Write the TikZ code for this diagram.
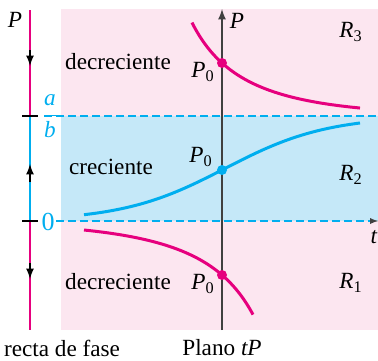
\documentclass[tikz,border=0pt]{standalone}
\usepackage{fontspec}
\setmainfont{Liberation Serif}
\usetikzlibrary{arrows.meta,calc}
\definecolor{fasemag}{RGB}{230,0,126}
\definecolor{fasecyan}{RGB}{0,174,239}
\definecolor{bgpink}{RGB}{252,230,240}
\definecolor{bgblue}{RGB}{197,232,248}
\definecolor{axisgray}{RGB}{64,64,64}

\begin{document}
\begin{tikzpicture}[x=0.5pt,y=0.5pt,
    every node/.style={font=\fontsize{11.6}{14}\selectfont},
    curva/.style={line width=1.5pt},
    guia/.style={fasecyan,dash pattern=on 4pt off 2pt,line width=0.6pt},
    punto/.style={circle,inner sep=0pt,minimum size=5pt}]
        \useasboundingbox (0,0) rectangle (378,360);
        % regions of the tP plane
        \fill[bgpink] (61,30) rectangle (378,351);
        \fill[bgblue] (61,139) rectangle (378,244);
        % equilibrium levels
        \draw[guia] (44,244) -- (378,244);
        \draw[guia] (56,139) -- (372,139);
        \draw[axisgray,-latex] (370,139) -- (378,139);
        \node at (374,123) {\textit{t}};
        %axis
        \draw[axisgray,line width=0.8pt,-latex] (222,30) -- (222,351);
        \node (ejeP) at (237,339) {\textit{P}};
        % solution curves
        \draw[curva,fasemag] plot[domain=-30:138,samples=80,smooth]
            ({222+\x},{139+105/(1-0.3355*exp(-0.01129*\x))});
        \draw[curva,fasecyan] plot[domain=-138:138,samples=80,smooth]
            ({222+\x},{139+105/(1+1.058*exp(-0.01953*\x))});
        \draw[curva,fasemag] plot[domain=-138:31,samples=80,smooth]
            ({222+\x},{139+105/(1-2.944*exp(-0.01057*\x))});
        \node[punto,fill=fasemag] (p3) at (222,297) {};
        \node[punto,fill=fasecyan] (p2) at (222,190) {};
        \node[punto,fill=fasemag] (p1) at (222,85) {};
        \node (l3) at (203,288) {\textit{P}\textsubscript{0}};
        \node (l2) at (201,203) {\textit{P}\textsubscript{0}};
        \node (l1) at (203,76) {\textit{P}\textsubscript{0}};
        % region names
        \node (r3) at (351,328) {\textit{R}\textsubscript{3}};
        \node (r2) at (351,185) {\textit{R}\textsubscript{2}};
        \node (r1) at (351,77) {\textit{R}\textsubscript{1}};
        \node (dec3) at (118,298) {decreciente};
        \node (cre) at (111,193) {creciente};
        \node (dec1) at (118,78) {decreciente};
        % phase line
        \draw[fasemag,line width=1pt] (30,350) -- (30,244);
        \draw[fasecyan,line width=1pt] (30,244) -- (30,139);
        \draw[fasemag,line width=1pt] (30,139) -- (30,30);
        \draw[line width=0.8pt] (22,244) -- (38,244);
        \draw[line width=0.8pt] (22,139) -- (38,139);
        \draw[line width=0.8pt,-latex] (30,310) -- (30,294);
        \draw[line width=0.8pt,-latex] (30,178) -- (30,196);
        \draw[line width=0.8pt,-latex] (30,97) -- (30,81);
        \node (faseP) at (15,340) {\textit{P}};
        \node[fasecyan,inner sep=0pt] (ab) at (50,244)
            {$\displaystyle\frac{\textit{a}}{\textit{b}}$};
        \node[fasecyan,font=\fontsize{13}{15}\selectfont] (cero) at (48,138) {0};
        % captions
        \node[inner sep=1pt] (recta) at (62,12) {recta de fase};
        \node (plano) at (222,12) {Plano \textit{tP}};
\end{tikzpicture}
\end{document}
